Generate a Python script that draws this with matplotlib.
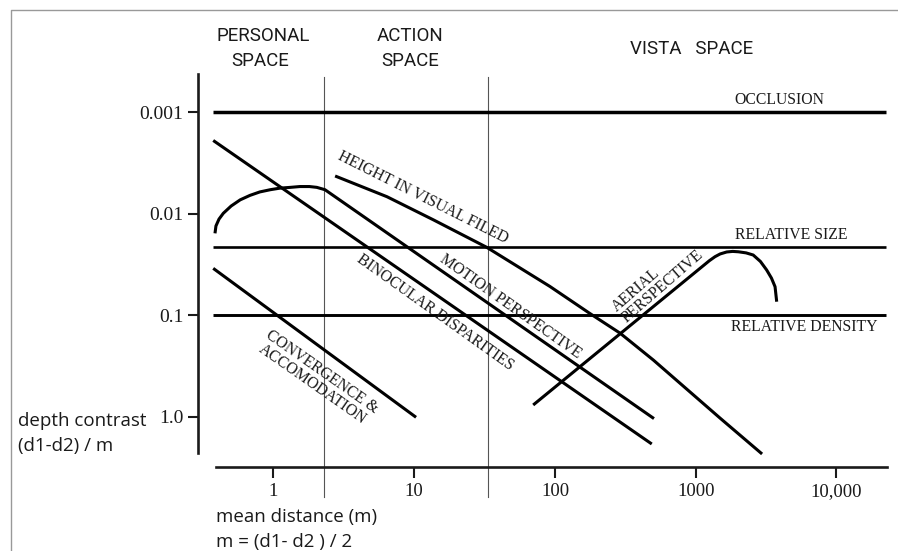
import matplotlib
matplotlib.use('Agg')
import matplotlib.pyplot as plt
from matplotlib.lines import Line2D
from matplotlib.ticker import NullLocator

# ticks
x_ticks = [1, 10, 100, 1000, 10000]
x_tick_labels = ['1', '10', '100', '1000', '10,000']
y_ticks = [0.001, 0.01, 0.1, 1.0]
y_tick_labels = ['0.001', '0.01', '0.1', '1.0']

# borders between personal / action / vista space (m)
space_bounds = [2.3, 33.6]

# flat cues: span in distance and threshold
flat_x = [0.373, 22470]
occlusion_y = 0.001
rel_size_y = 0.0214
rel_density_y = 0.1

# sloped cues
conv_x = [0.373, 10.3]
conv_y = [0.0345, 1.01]

bino_x = [0.373, 487]
bino_y = [0.0019, 1.85]

motion_x = [0.384, 0.39, 0.41, 0.44, 0.50, 0.58, 0.68, 0.80, 0.95, 1.11, 1.32, 1.54, 1.80, 2.03, 2.32, 505]
motion_y = [0.0156, 0.0132, 0.0113, 0.0099, 0.0084, 0.0073, 0.0066, 0.0061, 0.0058, 0.0056, 0.0055, 0.0054, 0.0054, 0.0055, 0.0058, 1.04]

height_x = [2.74, 6.4, 13.7, 32.7, 92, 177, 290, 500, 1490, 2960]
height_y = [0.00425, 0.0068, 0.0115, 0.0214, 0.052, 0.096, 0.15, 0.276, 1.03, 2.32]

aerial_x = [70, 1250, 1370, 1490, 1660, 1830, 2010, 2280, 2560, 2880, 3190, 3450, 3660, 3760]
aerial_y = [0.764, 0.0290, 0.0265, 0.0249, 0.0238, 0.0235, 0.0237, 0.0243, 0.0255, 0.0295, 0.0358, 0.0430, 0.0523, 0.0735]

serif = 'Liberation Serif'
narrow = 'Roboto'
sans = 'Open Sans'
ink = '#1a1a1a'

W, H = 898, 551
fig = plt.figure(figsize=(W / 100, H / 100), dpi=100)
ax = fig.add_axes([198 / W, 1 - 467 / H, 689 / W, 393 / H])
ax.set_xscale('log')
ax.set_yscale('log')
ax.set_xlim(0.2908, 22850)
ax.set_ylim(3.117, 0.000421)

for s in ['top', 'right']:
    ax.spines[s].set_visible(False)
ax.spines['left'].set_bounds(0.000421, 2.27)
ax.spines['bottom'].set_bounds(0.3904, 22850)
for s in ['left', 'bottom']:
    ax.spines[s].set_linewidth(1.9)
    ax.spines[s].set_color(ink)

ax.set_xticks(x_ticks, x_tick_labels)
ax.set_yticks(y_ticks, y_tick_labels)
ax.xaxis.set_minor_locator(NullLocator())
ax.yaxis.set_minor_locator(NullLocator())
ax.tick_params(axis='y', direction='out', length=7.2, width=1.5, pad=3.5,
               labelsize=14, colors=ink)
ax.tick_params(axis='x', direction='out', length=8, width=1.5, pad=3.5,
               labelsize=13.5, colors=ink)
for lab in ax.get_xticklabels() + ax.get_yticklabels():
    lab.set_fontfamily(serif)

# space borders
for b in space_bounds:
    ax.plot([b, b], [0.000451, 6.15], color='#555555', lw=0.8, clip_on=False)

# flat cues
ax.plot(flat_x, [occlusion_y] * 2, color='black', lw=2.5, solid_capstyle='butt')
ax.plot(flat_x, [rel_size_y] * 2, color='black', lw=1.9, solid_capstyle='butt')
ax.plot(flat_x, [rel_density_y] * 2, color='black', lw=2.1, solid_capstyle='butt')

# sloped cues
for xs, ys in [(conv_x, conv_y), (bino_x, bino_y), (motion_x, motion_y),
               (height_x, height_y), (aerial_x, aerial_y)]:
    ax.plot(xs, ys, color='black', lw=2.2, solid_capstyle='butt', clip_on=False)

# cue labels
lab_kw = dict(fontfamily=serif, fontsize=11.3, color=ink)
ax.text(1870, 0.00076, 'OCCLUSION', ha='left', va='center', **lab_kw)
ax.text(1900, 0.0162, 'RELATIVE SIZE', ha='left', va='center', **lab_kw)
ax.text(1780, 0.1296, 'RELATIVE DENSITY', ha='left', va='center', **lab_kw)

rot_kw = dict(fontfamily=serif, fontsize=11.3, color=ink, va='center',
              rotation_mode='anchor')
ax.text(11.54, 0.00692, 'HEIGHT IN VISUAL FILED', rotation=-26.6, ha='center', **rot_kw)
ax.text(48.5, 0.0823, 'MOTION PERSPECTIVE', rotation=-35.2, ha='center', **rot_kw)
ax.text(14.0, 0.0939, 'BINOCULAR DISPARITIES', rotation=-35.5, ha='center', **rot_kw)
ax.text(2.04, 0.414, 'CONVERGENCE &\nACCOMODATION', rotation=-35, linespacing=0.95,
        ha='center', **rot_kw)
ax.text(285, 0.0982, 'AERIAL\nPERSPECTIVE', rotation=41, linespacing=0.95,
        ha='left', multialignment='left', **rot_kw)

# region headings
head_kw = dict(fontfamily=narrow, fontsize=13.5, color=ink, ha='center', va='baseline')
fig.text(263 / W, 1 - 40.7 / H, 'PERSONAL', **head_kw)
fig.text(260 / W, 1 - 65.7 / H, 'SPACE', **head_kw)
fig.text(410 / W, 1 - 40.7 / H, 'ACTION', **head_kw)
fig.text(410 / W, 1 - 65.7 / H, 'SPACE', **head_kw)
fig.text(692 / W, 1 - 54.3 / H, 'VISTA   SPACE', **head_kw)

# axis titles
ax_kw = dict(fontfamily=sans, fontsize=13.5, color=ink, ha='left', va='baseline')
fig.text(18 / W, 1 - 425.7 / H, 'depth contrast', **ax_kw)
fig.text(18 / W, 1 - 450.7 / H, '(d1-d2) / m', **ax_kw)
fig.text(216 / W, 1 - 521.7 / H, 'mean distance (m)', **ax_kw)
fig.text(216 / W, 1 - 546.7 / H, 'm = (d1- d2 ) / 2', **ax_kw)

# frame
fig.add_artist(Line2D([11 / W, 11 / W, 1.0], [0.0, 1 - 10 / H, 1 - 10 / H],
                      color='#999999', lw=1.0))

fig.savefig('out.png', dpi=100)
